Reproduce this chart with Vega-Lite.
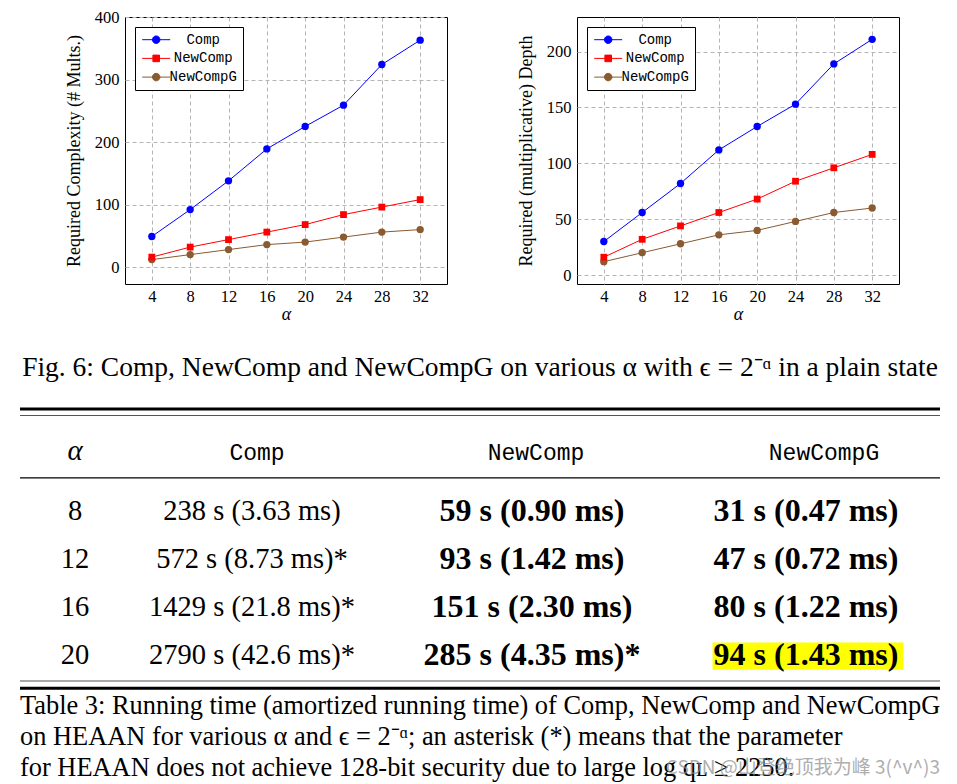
{
  "$schema": "https://vega.github.io/schema/vega-lite/v6.json",
  "padding": {"left": 18, "top": 8, "right": 0, "bottom": 0},
  "autosize": {"type": "pad"},
  "config": {
    "font": "Liberation Serif",
    "view": {"stroke": null},
    "text": {"color": "black"}
  },
  "datasets": {
    "complexity": [
      {"alpha": 4, "method": "Comp", "value": 49}, {"alpha": 8, "method": "Comp", "value": 92}, {"alpha": 12, "method": "Comp", "value": 138}, {"alpha": 16, "method": "Comp", "value": 189}, {"alpha": 20, "method": "Comp", "value": 225}, {"alpha": 24, "method": "Comp", "value": 259}, {"alpha": 28, "method": "Comp", "value": 324}, {"alpha": 32, "method": "Comp", "value": 363},
      {"alpha": 4, "method": "NewComp", "value": 16}, {"alpha": 8, "method": "NewComp", "value": 32}, {"alpha": 12, "method": "NewComp", "value": 44}, {"alpha": 16, "method": "NewComp", "value": 56}, {"alpha": 20, "method": "NewComp", "value": 68}, {"alpha": 24, "method": "NewComp", "value": 84}, {"alpha": 28, "method": "NewComp", "value": 96}, {"alpha": 32, "method": "NewComp", "value": 108},
      {"alpha": 4, "method": "NewCompG", "value": 12}, {"alpha": 8, "method": "NewCompG", "value": 20}, {"alpha": 12, "method": "NewCompG", "value": 28}, {"alpha": 16, "method": "NewCompG", "value": 36}, {"alpha": 20, "method": "NewCompG", "value": 40}, {"alpha": 24, "method": "NewCompG", "value": 48}, {"alpha": 28, "method": "NewCompG", "value": 56}, {"alpha": 32, "method": "NewCompG", "value": 60}
    ],
    "depth": [
      {"alpha": 4, "method": "Comp", "value": 30}, {"alpha": 8, "method": "Comp", "value": 56}, {"alpha": 12, "method": "Comp", "value": 82}, {"alpha": 16, "method": "Comp", "value": 112}, {"alpha": 20, "method": "Comp", "value": 133}, {"alpha": 24, "method": "Comp", "value": 153}, {"alpha": 28, "method": "Comp", "value": 189}, {"alpha": 32, "method": "Comp", "value": 211},
      {"alpha": 4, "method": "NewComp", "value": 16}, {"alpha": 8, "method": "NewComp", "value": 32}, {"alpha": 12, "method": "NewComp", "value": 44}, {"alpha": 16, "method": "NewComp", "value": 56}, {"alpha": 20, "method": "NewComp", "value": 68}, {"alpha": 24, "method": "NewComp", "value": 84}, {"alpha": 28, "method": "NewComp", "value": 96}, {"alpha": 32, "method": "NewComp", "value": 108},
      {"alpha": 4, "method": "NewCompG", "value": 12}, {"alpha": 8, "method": "NewCompG", "value": 20}, {"alpha": 12, "method": "NewCompG", "value": 28}, {"alpha": 16, "method": "NewCompG", "value": 36}, {"alpha": 20, "method": "NewCompG", "value": 40}, {"alpha": 24, "method": "NewCompG", "value": 48}, {"alpha": 28, "method": "NewCompG", "value": 56}, {"alpha": 32, "method": "NewCompG", "value": 60}
    ],
    "columns": [{"column": "α"}, {"column": "Comp"}, {"column": "NewComp"}, {"column": "NewCompG"}],
    "timing": [
      {"alpha": 8, "method": "Comp", "time": "238 s (3.63 ms)"}, {"alpha": 8, "method": "NewComp", "time": "59 s (0.90 ms)"}, {"alpha": 8, "method": "NewCompG", "time": "31 s (0.47 ms)"},
      {"alpha": 12, "method": "Comp", "time": "572 s (8.73 ms)*"}, {"alpha": 12, "method": "NewComp", "time": "93 s (1.42 ms)"}, {"alpha": 12, "method": "NewCompG", "time": "47 s (0.72 ms)"},
      {"alpha": 16, "method": "Comp", "time": "1429 s (21.8 ms)*"}, {"alpha": 16, "method": "NewComp", "time": "151 s (2.30 ms)"}, {"alpha": 16, "method": "NewCompG", "time": "80 s (1.22 ms)"},
      {"alpha": 20, "method": "Comp", "time": "2790 s (42.6 ms)*"}, {"alpha": 20, "method": "NewComp", "time": "285 s (4.35 ms)*"}, {"alpha": 20, "method": "NewCompG", "time": "94 s (1.43 ms)"}
    ],
    "captions": [
      {"part": "figure", "line": 1, "text": "Fig. 6: Comp, NewComp and NewCompG on various α with ϵ = 2⁻ᵅ in a plain state"},
      {"part": "table", "line": 1, "text": "Table 3: Running time (amortized running time) of Comp, NewComp and NewCompG"},
      {"part": "table", "line": 2, "text": "on HEAAN for various α and ϵ = 2⁻ᵅ; an asterisk (*) means that the parameter"},
      {"part": "table", "line": 3, "text": "for HEAAN does not achieve 128-bit security due to large log qʟ ≥ 2250."},
      {"part": "watermark", "line": 3, "text": "CSDN @山登绝顶我为峰 3(^v^)3"}
    ]
  },
  "vconcat": [
    {
      "hconcat": [
        {"width": 45, "height": 267, "data": {"values": []}, "mark": "point"},
        {
          "width": 322, "height": 267,
          "view": {"stroke": "black", "strokeWidth": 1},
          "data": {"name": "complexity"},
          "encoding": {
            "x": {"field": "alpha", "type": "quantitative", "scale": {"domain": [1.2, 34.8], "nice": false, "zero": false},
              "axis": {"values": [4, 8, 12, 16, 20, 24, 28, 32], "title": "α", "titleFontStyle": "italic", "titleFontWeight": "normal", "titleFontSize": 18, "titlePadding": 1, "titleColor": "black", "labelFontSize": 16.5, "labelPadding": 4, "labelColor": "black", "domain": false, "ticks": false, "grid": true, "gridDash": [4, 3], "gridColor": "#b4b4b4"}},
            "y": {"field": "value", "type": "quantitative", "scale": {"domain": [-27, 400], "nice": false, "zero": false},
              "axis": {"values": [0, 100, 200, 300, 400], "title": "Required Complexity (# Mults.)", "titleFontWeight": "normal", "titleFontSize": 18, "titlePadding": 11, "titleColor": "black", "labelFontSize": 16.5, "labelPadding": 6, "labelColor": "black", "domain": false, "ticks": false, "grid": true, "gridDash": [4, 3], "gridColor": "#b4b4b4"}},
            "color": {"field": "method", "type": "nominal",
              "scale": {"domain": ["Comp", "NewComp", "NewCompG"], "range": ["#0000ff", "#ff0000", "#8a5a30"]},
              "legend": {"title": null, "orient": "top-left", "offset": 10, "strokeColor": "black", "fillColor": "white", "padding": 5.7, "cornerRadius": 0,
                "labelFont": "Liberation Mono", "labelFontSize": 14, "labelColor": "black", "labelAlign": "center", "labelOffset": 40,
                "symbolSize": 100, "symbolOffset": 8.5, "symbolStrokeWidth": 1, "rowPadding": 4.7,
                "symbolType": "M-2.8,0L2.8,0M0.75,0A0.75,0.75,0,1,1,-0.75,0A0.75,0.75,0,1,1,0.75,0Z",
                "encode": {"symbols": {"update": {
                  "shape": {"signal": "datum.value === 'NewComp' ? 'M-2.8,0L2.8,0M-0.66,-0.66L0.66,-0.66L0.66,0.66L-0.66,0.66Z' : 'M-2.8,0L2.8,0M0.75,0A0.75,0.75,0,1,1,-0.75,0A0.75,0.75,0,1,1,0.75,0Z'"},
                  "size": {"value": 100},
                  "strokeWidth": {"value": 1},
                  "fill": {"signal": "datum.value === 'Comp' ? '#0000ff' : datum.value === 'NewComp' ? '#ff0000' : '#8a5a30'"},
                  "stroke": {"signal": "datum.value === 'Comp' ? '#0000ff' : datum.value === 'NewComp' ? '#ff0000' : '#8a5a30'"},
                  "opacity": {"value": 1}, "fillOpacity": {"value": 1}, "strokeOpacity": {"value": 1}}}}}}
          },
          "layer": [
            {"mark": {"type": "line", "strokeWidth": 1}},
            {"transform": [{"filter": "datum.method !== 'NewComp'"}], "mark": {"type": "point", "shape": "circle", "filled": true, "opacity": 1, "size": 54}},
            {"transform": [{"filter": "datum.method === 'NewComp'"}], "mark": {"type": "point", "shape": "square", "filled": true, "opacity": 1, "size": 46}}
          ]
        },
        {"width": 10, "height": 267, "data": {"values": []}, "mark": "point"},
        {
          "width": 322, "height": 267,
          "view": {"stroke": "black", "strokeWidth": 1},
          "data": {"name": "depth"},
          "encoding": {
            "x": {"field": "alpha", "type": "quantitative", "scale": {"domain": [1.2, 34.8], "nice": false, "zero": false},
              "axis": {"values": [4, 8, 12, 16, 20, 24, 28, 32], "title": "α", "titleFontStyle": "italic", "titleFontWeight": "normal", "titleFontSize": 18, "titlePadding": 1, "titleColor": "black", "labelFontSize": 16.5, "labelPadding": 4, "labelColor": "black", "domain": false, "ticks": false, "grid": true, "gridDash": [4, 3], "gridColor": "#b4b4b4"}},
            "y": {"field": "value", "type": "quantitative", "scale": {"domain": [-8, 231], "nice": false, "zero": false},
              "axis": {"values": [0, 50, 100, 150, 200], "title": "Required (multiplicative) Depth", "titleFontWeight": "normal", "titleFontSize": 18, "titlePadding": 11, "titleColor": "black", "labelFontSize": 16.5, "labelPadding": 6, "labelColor": "black", "domain": false, "ticks": false, "grid": true, "gridDash": [4, 3], "gridColor": "#b4b4b4"}},
            "color": {"field": "method", "type": "nominal",
              "scale": {"domain": ["Comp", "NewComp", "NewCompG"], "range": ["#0000ff", "#ff0000", "#8a5a30"]},
              "legend": {"title": null, "orient": "top-left", "offset": 10, "strokeColor": "black", "fillColor": "white", "padding": 5.7, "cornerRadius": 0,
                "labelFont": "Liberation Mono", "labelFontSize": 14, "labelColor": "black", "labelAlign": "center", "labelOffset": 40,
                "symbolSize": 100, "symbolOffset": 8.5, "symbolStrokeWidth": 1, "rowPadding": 4.7,
                "symbolType": "M-2.8,0L2.8,0M0.75,0A0.75,0.75,0,1,1,-0.75,0A0.75,0.75,0,1,1,0.75,0Z",
                "encode": {"symbols": {"update": {
                  "shape": {"signal": "datum.value === 'NewComp' ? 'M-2.8,0L2.8,0M-0.66,-0.66L0.66,-0.66L0.66,0.66L-0.66,0.66Z' : 'M-2.8,0L2.8,0M0.75,0A0.75,0.75,0,1,1,-0.75,0A0.75,0.75,0,1,1,0.75,0Z'"},
                  "size": {"value": 100},
                  "strokeWidth": {"value": 1},
                  "fill": {"signal": "datum.value === 'Comp' ? '#0000ff' : datum.value === 'NewComp' ? '#ff0000' : '#8a5a30'"},
                  "stroke": {"signal": "datum.value === 'Comp' ? '#0000ff' : datum.value === 'NewComp' ? '#ff0000' : '#8a5a30'"},
                  "opacity": {"value": 1}, "fillOpacity": {"value": 1}, "strokeOpacity": {"value": 1}}}}}}
          },
          "layer": [
            {"mark": {"type": "line", "strokeWidth": 1}},
            {"transform": [{"filter": "datum.method !== 'NewComp'"}], "mark": {"type": "point", "shape": "circle", "filled": true, "opacity": 1, "size": 54}},
            {"transform": [{"filter": "datum.method === 'NewComp'"}], "mark": {"type": "point", "shape": "square", "filled": true, "opacity": 1, "size": 46}}
          ]
        }
      ],
      "spacing": 60,
      "bounds": "flush",
      "resolve": {"scale": {"color": "independent"}}
    },
    {
      "width": 920, "height": 83.0,
      "data": {"name": "captions"},
      "transform": [{"filter": "datum.part === 'figure'"}],
      "mark": {"type": "text", "fontSize": 27.5, "font": "Liberation Serif", "color": "black", "dy": 2},
      "encoding": {"text": {"field": "text"}}
    },
    {
      "width": 920, "height": 6.5,
      "data": {"values": [{}]},
      "layer": [
        {"mark": {"type": "rule", "strokeWidth": 3, "color": "black"}, "encoding": {"y": {"value": 0}}},
        {"mark": {"type": "rule", "strokeWidth": 1.2, "color": "#555555"}, "encoding": {"y": {"value": "height"}}}
      ]
    },
    {
      "hconcat": [
        {"width": 110, "height": 60.8, "data": {"name": "columns"}, "transform": [{"filter": "datum.column === 'α'"}],
          "layer": [
            {"mark": {"type": "text", "font": "Liberation Serif", "fontStyle": "italic", "fontSize": 29, "dy": 4, "color": "black"}, "encoding": {"text": {"field": "column"}}},
            {"mark": {"type": "rule", "strokeWidth": 1.3, "color": "black"}, "encoding": {"y": {"value": "height"}}}
          ]},
        {"width": 244, "height": 60.8, "data": {"name": "columns"}, "transform": [{"filter": "datum.column === 'Comp'"}],
          "layer": [
            {"mark": {"type": "text", "font": "Liberation Mono", "fontSize": 23, "dy": 6, "dx": 5, "color": "black"}, "encoding": {"text": {"field": "column"}}},
            {"mark": {"type": "rule", "strokeWidth": 1.3, "color": "black"}, "encoding": {"y": {"value": "height"}}}
          ]},
        {"width": 316, "height": 60.8, "data": {"name": "columns"}, "transform": [{"filter": "datum.column === 'NewComp'"}],
          "layer": [
            {"mark": {"type": "text", "font": "Liberation Mono", "fontSize": 23, "dy": 6, "dx": 4, "color": "black"}, "encoding": {"text": {"field": "column"}}},
            {"mark": {"type": "rule", "strokeWidth": 1.3, "color": "black"}, "encoding": {"y": {"value": "height"}}}
          ]},
        {"width": 250, "height": 60.8, "data": {"name": "columns"}, "transform": [{"filter": "datum.column === 'NewCompG'"}],
          "layer": [
            {"mark": {"type": "text", "font": "Liberation Mono", "fontSize": 23, "dy": 6, "dx": 9, "color": "black"}, "encoding": {"text": {"field": "column"}}},
            {"mark": {"type": "rule", "strokeWidth": 1.3, "color": "black"}, "encoding": {"y": {"value": "height"}}}
          ]}
      ],
      "spacing": 0,
      "bounds": "flush"
    },
    {
      "hconcat": [
        {"width": 110, "height": 200.5, "data": {"name": "timing"}, "transform": [{"filter": "datum.method === 'Comp'"}],
          "mark": {"type": "text", "fontSize": 28.5, "dy": 4, "color": "black"},
          "encoding": {"y": {"field": "alpha", "type": "ordinal", "scale": {"domain": [8, 12, 16, 20], "padding": 0.59}, "axis": null}, "text": {"field": "alpha"}}},
        {"width": 244, "height": 200.5, "data": {"name": "timing"}, "transform": [{"filter": "datum.method === 'Comp'"}],
          "mark": {"type": "text", "fontSize": 28.5, "dy": 4, "color": "black"},
          "encoding": {"y": {"field": "alpha", "type": "ordinal", "scale": {"domain": [8, 12, 16, 20], "padding": 0.59}, "axis": null}, "text": {"field": "time"}}},
        {"width": 316, "height": 200.5, "data": {"name": "timing"}, "transform": [{"filter": "datum.method === 'NewComp'"}],
          "mark": {"type": "text", "fontSize": 32, "fontWeight": "bold", "dy": 4, "color": "black"},
          "encoding": {"y": {"field": "alpha", "type": "ordinal", "scale": {"domain": [8, 12, 16, 20], "padding": 0.59}, "axis": null}, "text": {"field": "time"}}},
        {"width": 250, "height": 200.5, "data": {"name": "timing"}, "transform": [{"filter": "datum.method === 'NewCompG'"}],
          "encoding": {"y": {"field": "alpha", "type": "ordinal", "scale": {"domain": [8, 12, 16, 20], "padding": 0.59}, "axis": null}},
          "layer": [
            {"transform": [{"filter": "datum.alpha === 20"}],
              "mark": {"type": "point", "shape": "M-1.073,-0.091L0.927,-0.091L0.927,0.195L-1.073,0.195Z", "size": 36481, "filled": true, "color": "#ffff00", "opacity": 1, "strokeWidth": 0}},
            {"mark": {"type": "text", "fontSize": 32, "fontWeight": "bold", "dy": 4, "dx": -9, "color": "black"}, "encoding": {"text": {"field": "time"}}}
          ]}
      ],
      "spacing": 0,
      "bounds": "flush"
    },
    {
      "width": 920, "height": 7.3,
      "data": {"values": [{}]},
      "layer": [
        {"mark": {"type": "rule", "strokeWidth": 1.2, "color": "#555555"}, "encoding": {"y": {"value": 0}}},
        {"mark": {"type": "rule", "strokeWidth": 3, "color": "black"}, "encoding": {"y": {"value": "height"}}}
      ]
    },
    {
      "width": 920, "height": 93.9,
      "data": {"name": "captions"},
      "encoding": {"y": {"field": "line", "type": "ordinal", "scale": {"domain": [1, 2, 3], "padding": 0.514}, "axis": null}},
      "layer": [
        {"transform": [{"filter": "datum.part === 'table'"}],
          "mark": {"type": "text", "align": "left", "fontSize": 26.4, "color": "black"},
          "encoding": {"x": {"value": 0}, "text": {"field": "text"}}},
        {"transform": [{"filter": "datum.part === 'watermark'"}],
          "mark": {"type": "text", "align": "right", "font": "Noto Sans CJK SC", "fontSize": 19, "color": "#8c8c8c", "opacity": 0.7},
          "encoding": {"x": {"value": "width"}, "text": {"field": "text"}}}
      ]
    }
  ],
  "spacing": 0
}
